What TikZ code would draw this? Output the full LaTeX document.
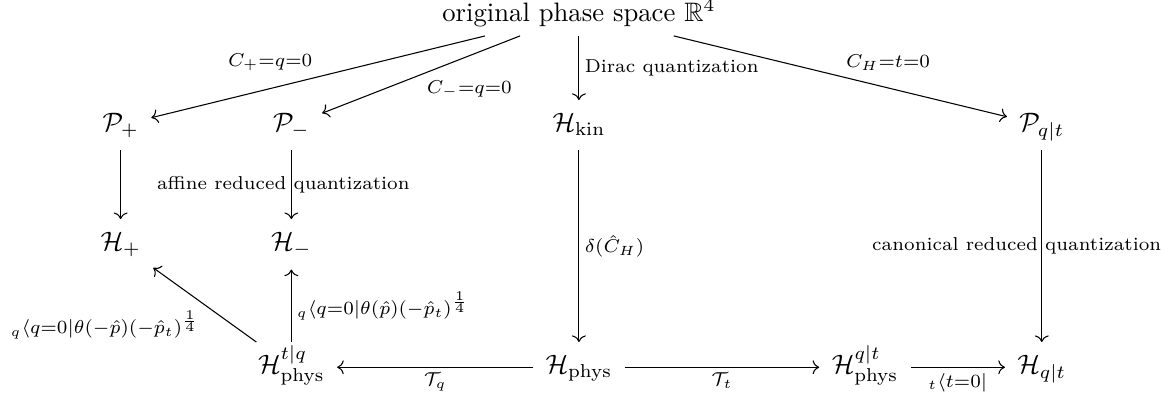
\documentclass[tikz,border=0pt]{standalone}
\usepackage{amsmath,amssymb}
\usetikzlibrary{positioning,arrows.meta}

\begin{document}
\begin{tikzpicture}[
  sp/.style={inner sep=4.5pt, text height=7pt, text depth=2.5pt},
  lbl/.style={font=\scriptsize, inner sep=2pt},
  arr/.style={-{To}},
  on grid
]
\useasboundingbox (0,0) rectangle (15.42,5.30);

%% --- Classical side (top rows) ---
\node[sp] (kin) at (7.63,3.65) {$\mathcal{H}_{\mathrm{kin}}$};
\node[above=1.48cm of kin] (orig) {original phase space $\mathbb{R}^4$};
\node[sp, left=3.79cm of kin]  (pm)  {$\mathcal{P}_-$};
\node[sp, left=2.25cm of pm]   (pp)  {$\mathcal{P}_+$};
\node[sp, right=6.1cm of kin]  (pqt) {$\mathcal{P}_{q|t}$};

%% --- Reduced Hilbert spaces ---
\node[sp, below=1.57cm of pp] (hp) {$\mathcal{H}_+$};
\node[sp, below=1.57cm of pm] (hm) {$\mathcal{H}_-$};

%% --- Physical Hilbert spaces (bottom row) ---
\node[sp, below=3.19cm of kin]  (phys) {$\mathcal{H}_{\mathrm{phys}}$};
\node[sp, below=3.19cm of pm]   (ptq)  {$\mathcal{H}^{t|q}_{\mathrm{phys}}$};
\node[sp, right=3.77cm of phys] (pqtp) {$\mathcal{H}^{q|t}_{\mathrm{phys}}$};
\node[sp, below=3.19cm of pqt]  (hqt)  {$\mathcal{H}_{q|t}$};

%% --- Constraints and quantizations ---
\draw[arr] (orig) -- node[lbl, above left] {$C_+{=}q{=}0$} (pp);
\draw[arr] (orig) -- node[lbl, below right] {$C_-{=}q{=}0$} (pm);
\draw[arr] (orig) -- node[lbl, right] {Dirac quantization} (kin);
\draw[arr] (orig) -- node[lbl, above right] {$C_H{=}t{=}0$} (pqt);
\draw[arr] (pp) -- (hp);
\draw[arr] (pm) -- node[lbl, xshift=-3pt] {affine reduced quantization} (hm);
\draw[arr] (kin) -- node[lbl, right] {$\delta(\hat{C}_H)$} (phys);
\draw[arr] (pqt) -- node[lbl, xshift=-9.4pt] {canonical reduced quantization} (hqt);

%% --- Maps between the Hilbert spaces ---
\draw[arr] (phys) -- node[lbl, below] {$\mathcal{T}_q$} (ptq);
\draw[arr] (phys) -- node[lbl, below] {$\mathcal{T}_t$} (pqtp);
\draw[arr] (pqtp) -- node[lbl, below] {${}_t\langle t{=}0|$} (hqt);
\draw[arr] (ptq) -- node[lbl, below left]
  {${}_q\langle q{=}0|\theta(-\hat{p})(-\hat{p}_t)^{\frac{1}{4}}$} (hp);
\draw[arr] (ptq) -- node[lbl, right]
  {${}_q\langle q{=}0|\theta(\hat{p})(-\hat{p}_t)^{\frac{1}{4}}$} (hm);
\end{tikzpicture}
\end{document}
